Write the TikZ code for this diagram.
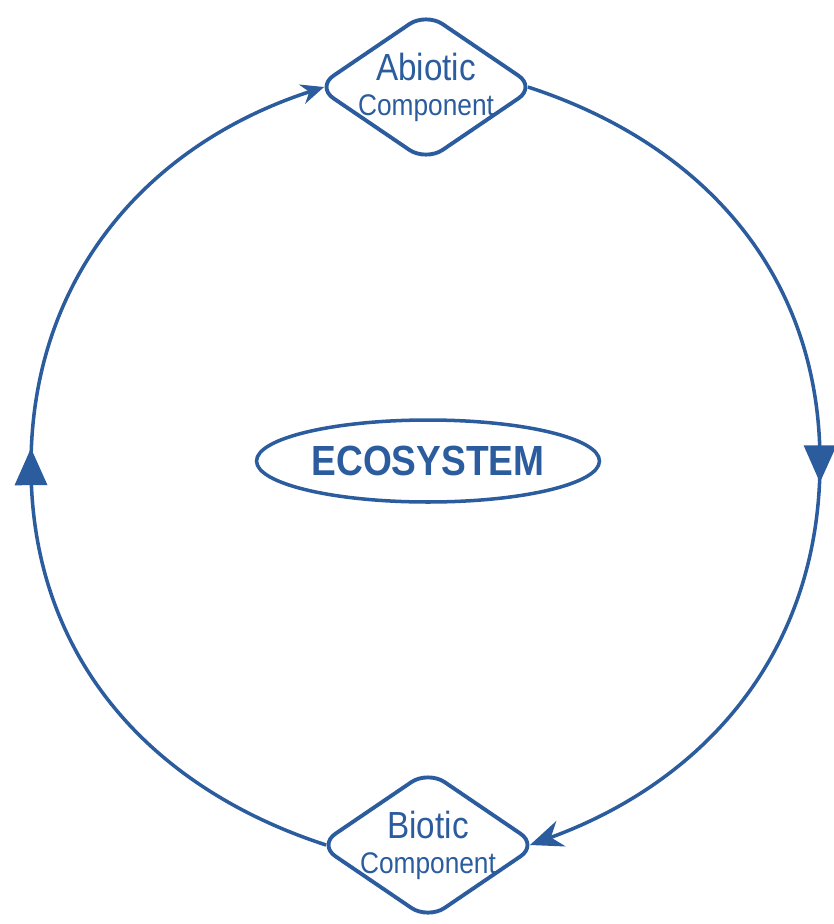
\documentclass[tikz,border=0pt]{standalone}
\usepackage{fontspec}
\setmainfont[FakeStretch=0.88]{Liberation Sans}
\usetikzlibrary{shapes.geometric,arrows.meta,decorations.markings}
\definecolor{ecoblue}{RGB}{43,92,158}
\tikzset{
  part/.style={draw=ecoblue, line width=2.2pt, shape=diamond, aspect=1.45,
    inner sep=-5pt, minimum width=4.4cm, minimum height=3cm,
    rounded corners=0.4cm, text=ecoblue, align=center,
    font=\fontsize{17}{20}\selectfont},
  core/.style={draw=ecoblue, line width=2pt, shape=ellipse, inner sep=0pt,
    minimum width=6.86cm, minimum height=1.64cm, text=ecoblue},
  loopline/.style={draw=ecoblue, line width=2pt, postaction={decorate},
    decoration={markings, mark=at position 0.5 with
      {\fill[ecoblue] (0.37cm,0) -- (-0.37cm,0.33cm) -- (-0.37cm,-0.33cm) -- cycle;}}}
}
\newcommand{\bigline}{\fontsize{21.5}{20}\selectfont}
\newcommand{\smallline}{\fontsize{17}{20}\selectfont}
\begin{document}
\begin{tikzpicture}[x=0.02cm,y=-0.02cm]
\useasboundingbox (0,0) rectangle (833,924);
% the two components and the centre
\node[part] (abio) at (426,87) {\bigline Abiotic\\ \smallline Component};
\node[part] (bio) at (428,845) {\bigline Biotic\\ \smallline Component};
\node[core] (eco) at (428,461) {\fontsize{24}{28}\selectfont\bfseries ECOSYSTEM};
\coordinate (left) at (31,466);
\coordinate (right) at (820,462);
% the cycle
\draw[loopline,arrows=-{Stealth[length=0.46cm,width=0.4cm]}] ([xshift=0.2cm]bio.west) to[out=162,in=-90] (left) to[out=90,in=198] ([xshift=0.2cm]abio.west);
\draw[loopline,arrows=-{Stealth[length=0.66cm,width=0.54cm]}] ([xshift=-0.2cm]abio.east) to[out=-18,in=90] (right) to[out=-90,in=20] ([xshift=-0.2cm]bio.east);
\end{tikzpicture}
\end{document}
